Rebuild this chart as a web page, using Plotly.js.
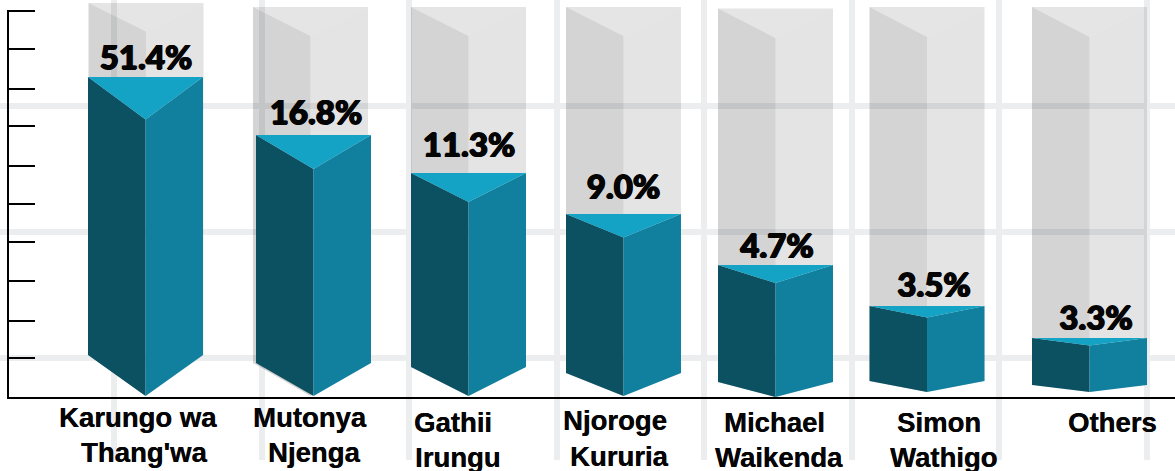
<!DOCTYPE html>
<html><head><meta charset="utf-8">
<script src="https://cdn.plot.ly/plotly-3.0.1.min.js"></script>
<style>html,body{margin:0;padding:0;background:#fff}#c{width:1175px;height:471px}</style>
</head><body><div id="c"></div>
<script>
// ---- data ----
const categories = ["Karungo wa<br>Thang'wa","Mutonya<br>Njenga","Gathii<br>Irungu","Njoroge<br>Kururia","Michael<br>Waikenda","Simon<br>Wathigo","Others"];
const shares = [51.4,16.8,11.3,9.0,4.7,3.5,3.3];
// drawn height of each bar above the baseline (the source scale is not linear)
const barHeights = [319,261,223,182,131,90,58];

// ---- layout of the infographic ----
const barCentres = [145.5,313.5,468.5,623.5,775.5,927,1089.5];
const barHalf = 57.5;
const topDip = [42.5,34,29,23.5,18,11.5,7.5];
const sideBottom = [41,33,29,23,15,11,7];
const tipBase = [0,0,0,0,-1,4,4];
const columnCentres = [146,310.5,468.5,623.5,775.5,927,1089.5];
const columnTops = [393,389,389,389,387.5,389,389];
const columnDip = [28.5,29,29,29,29.5,30,30];
const labelX = [146,316,469,623.5,777,934,1096];
const labelAbove = [16,19,24.5,23.5,15.5,17.5,16.5];
const nameLineX = [[137.5,143.5],[310,314],[453,457.5],[615,619.5],[774.5,778.5],[939,943.5],[1112.5]];
const nameLineH = [[-21,-56],[-21,-56],[-26,-61],[-24,-60],[-26,-61],[-26,-61],[-26]];
const gridX = [114,261.5,409,556.5,704,851.5,999,1146.5];
const gridH = [290,164,38];
const axisTicks = [385,347,307,270,230,192,154,115,75,38];

const faces = {cl:[[],[]],cr:[[],[]],ct:[[],[]],bl:[[],[]],br:[[],[]],bt:[[],[]]};
function poly(f,pts){pts.forEach(p=>{f[0].push(p[0]);f[1].push(p[1]);});f[0].push(pts[0][0],null);f[1].push(pts[0][1],null);}
categories.forEach((_,i)=>{
  const c=barCentres[i], L=c-barHalf, R=c+barHalf, T=barHeights[i], V=T-topDip[i],
        tip=tipBase[i], side=tip+sideBottom[i];
  const cc=columnCentres[i], cL=cc-barHalf, cR=cc+barHalf, cT=columnTops[i], cV=cT-columnDip[i], cS=T>60?side:side+2;
  poly(faces.cl,[[cL,cT],[cc,cV],[cc,tip],[cL,cS]]);
  poly(faces.cr,[[cc,cV],[cR,cT],[cR,cS],[cc,tip]]);
  poly(faces.ct,[[cL,cT],[cR,cT],[cc,cV]]);
  poly(faces.bl,[[L,T],[c,V],[c,tip],[L,side]]);
  poly(faces.br,[[c,V],[R,T],[R,side],[c,tip]]);
  poly(faces.bt,[[L,T],[R,T],[c,V]]);
});
function face(f,color){return {type:'scatter',mode:'lines',x:f[0],y:f[1],fill:'toself',fillcolor:color,line:{width:0,color:color},hoverinfo:'skip',showlegend:false,xaxis:'x',yaxis:'y'};}
const traces=[
  face(faces.cl,'rgba(0,0,0,0.17)'),
  face(faces.cr,'rgba(0,0,0,0.105)'),
  face(faces.ct,'rgba(0,0,0,0.1)'),
  face(faces.bl,'#0c5161'),
  face(faces.br,'#11809f'),
  face(faces.bt,'#14a2c5'),
  {type:'scatter',mode:'text',x:labelX,y:barHeights.map((h,i)=>h+labelAbove[i]),
   text:shares.map(v=>v.toFixed(1)+'%'),textposition:'middle center',
   textfont:{family:'Lato, Inter, sans-serif',size:33,weight:900,color:'#050505',
     shadow:'0.8px 0 0 #050505,-0.8px 0 0 #050505,0 0.6px 0 #050505,0 -0.6px 0 #050505'},
   hoverinfo:'skip',showlegend:false,xaxis:'x',yaxis:'y'},
  {type:'scatter',mode:'lines',x:[null],y:[null],xaxis:'x2',yaxis:'y2',showlegend:false,hoverinfo:'skip'}
];
const annotations=[];
categories.forEach((n,i)=>n.split('<br>').forEach((line,j)=>{
  annotations.push({text:line,xref:'x',yref:'y',x:nameLineX[i][j],y:nameLineH[i][j],showarrow:false,xanchor:'center',yanchor:'middle',
    font:{family:'"Liberation Sans", Arial, sans-serif',size:27.5,weight:700,color:'#050505',shadow:'0.3px 0 0 #050505'}});
}));
const layout={
  width:1175,height:471,margin:{l:0,r:0,t:0,b:11,pad:0},paper_bgcolor:'#fff',plot_bgcolor:'rgba(0,0,0,0)',showlegend:false,
  xaxis:{range:[0,1175],domain:[0,1],anchor:'y',tickmode:'array',tickvals:gridX,showticklabels:false,ticks:'',showgrid:true,gridcolor:'#ecedef',gridwidth:6,zeroline:false,showline:false},
  yaxis:{range:[-64,396],domain:[0,1],anchor:'x',tickmode:'array',tickvals:gridH,showticklabels:false,ticks:'',showgrid:true,gridcolor:'#ecedef',gridwidth:6,zeroline:false,showline:false},
  xaxis2:{range:[9.3,1175],domain:[9.3/1175,1],anchor:'y2',showticklabels:false,ticks:'',showgrid:false,zeroline:false,showline:true,linecolor:'#000',linewidth:2},
  yaxis2:{range:[-0.7,386.5],domain:[63.3/460,450.5/460],anchor:'x2',tickmode:'array',tickvals:axisTicks,showticklabels:false,ticks:'inside',ticklen:26,tickwidth:2,tickcolor:'#000',showgrid:false,zeroline:false,showline:true,linecolor:'#000',linewidth:2},
  annotations:annotations
};
Plotly.newPlot('c',traces,layout,{displayModeBar:false,staticPlot:true});
</script></body></html>
